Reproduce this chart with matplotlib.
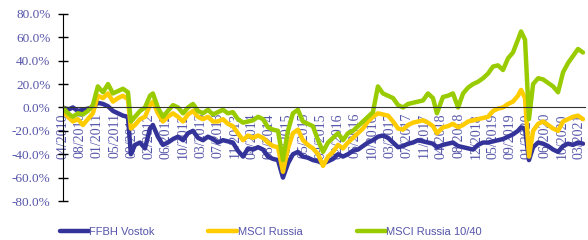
import matplotlib
matplotlib.use("Agg")
import matplotlib.pyplot as plt
import numpy as np

# x labels (one every ~4 months)
tick_labels = ["04/2010", "08/2010", "01/2011", "05/2011", "09/2011", "02/2012",
               "06/2012", "10/2012", "03/2013", "07/2013", "11/2013", "04/2014",
               "08/2014", "01/2015", "05/2015", "09/2015", "02/2016", "06/2016",
               "10/2016", "03/2017", "07/2017", "11/2017", "04/2018", "08/2018",
               "12/2018", "05/2019", "09/2019", "01/2020", "06/2020", "10/2020",
               "03/2021"]

# position of each sample, in tick steps from 04/2010
period = [0.00, 0.29, 0.58, 0.87, 1.16, 1.45, 1.74, 2.03, 2.33, 2.62, 2.91, 3.20,
          3.49, 3.78, 3.95, 4.19, 4.48, 4.77, 5.06, 5.23, 5.52, 5.81, 6.10, 6.40,
          6.69, 6.98, 7.27, 7.56, 7.85, 8.14, 8.43, 8.72, 9.01, 9.30, 9.59, 9.88,
          10.17, 10.47, 10.76, 11.05, 11.34, 11.63, 11.92, 12.21, 12.50, 12.79,
          13.08, 13.37, 13.66, 13.95, 14.24, 14.53, 14.83, 15.12, 15.41, 15.70,
          15.99, 16.28, 16.57, 16.86, 17.15, 17.44, 17.73, 18.02, 18.31, 18.60,
          18.90, 19.19, 19.48, 19.77, 20.06, 20.35, 20.64, 20.93, 21.22, 21.51,
          21.74, 22.09, 22.38, 22.67, 22.97, 23.26, 23.55, 23.84, 24.13, 24.42,
          24.71, 25.00, 25.29, 25.58, 25.87, 26.16, 26.45, 26.63, 26.86, 27.09,
          27.33, 27.62, 27.91, 28.20, 28.49, 28.78, 29.07, 29.36, 29.65, 29.94,
          30.23]

ffbh = [0, -2, 0, -3, -2, -1, 0, 4, 3, 1, -3, -5, -7, -8, -40, -32, -30, -35, -18,
        -15, -25, -32, -30, -27, -25, -28, -22, -20, -26, -28, -25, -27, -30, -28,
        -29, -30, -37, -42, -35, -36, -34, -36, -42, -44, -45, -60, -48, -40, -38,
        -42, -43, -45, -46, -48, -46, -44, -40, -42, -40, -37, -36, -33, -30, -28,
        -25, -24, -26, -30, -34, -33, -31, -30, -28, -29, -30, -31, -34, -32, -31,
        -30, -33, -34, -35, -36, -32, -30, -30, -29, -28, -27, -25, -23, -20, -17,
        -18, -45, -34, -30, -31, -33, -36, -38, -33, -31, -32, -30, -31]

msci = [-3, -8, -12, -10, -15, -10, -5, 10, 8, 12, 5, 8, 10, 7, -18, -15, -10, -8,
        2, 5, -5, -12, -8, -5, -8, -12, -6, -3, -8, -10, -8, -12, -12, -10, -14,
        -16, -22, -28, -24, -26, -24, -26, -30, -33, -34, -55, -35, -22, -19, -28,
        -32, -35, -40, -50, -42, -38, -32, -35, -30, -26, -22, -18, -12, -8, -5,
        -6, -7, -12, -18, -19, -15, -13, -12, -11, -13, -16, -22, -17, -16, -14,
        -17, -15, -12, -11, -10, -9, -8, -3, -1, 0, 3, 5, 10, 15, 8, -42, -20, -14,
        -12, -15, -18, -20, -12, -10, -8, -7, -10]

msci_1040 = [0, -5, -8, -5, -6, -3, 2, 18, 13, 20, 12, 14, 16, 13, -12, -8, -3, 0,
             10, 12, 0, -8, -3, 2, 0, -5, 0, 3, -3, -5, -2, -6, -4, -2, -5, -4,
             -10, -13, -12, -11, -8, -10, -17, -19, -20, -45, -20, -5, -2, -12,
             -14, -16, -28, -38, -30, -26, -22, -28, -22, -20, -16, -12, -8, -4,
             18, 12, 10, 8, 2, 0, 3, 4, 5, 6, 12, 8, -5, 9, 10, 12, 0, 12, 17, 20,
             22, 25, 29, 35, 36, 32, 42, 47, 58, 65, 58, -10, 20, 25, 24, 21, 18,
             13, 30, 38, 44, 50, 47]

series = [("FFBH Vostok", ffbh, "#333399"),
          ("MSCI Russia", msci, "#ffcc00"),
          ("MSCI Russia 10/40", msci_1040, "#99cc00")]

label_color = "#5555aa"

fig = plt.figure(figsize=(5.88, 2.4), dpi=100)
ax = fig.add_axes([0.107, 0.1625, 0.888, 0.7795])
ax.set_axisbelow(True)  # lines run over the date labels

# spines first: moving a spine resets the ticks
for s in ["top", "right"]:
    ax.spines[s].set_visible(False)
ax.spines["bottom"].set_position(("data", 0))
ax.spines["bottom"].set_color("#333333")
ax.spines["left"].set_color("black")

handles = []
for name, vals, col in series:
    h, = ax.plot(period, vals, color=col, lw=3.2, solid_capstyle="round",
                 solid_joinstyle="round", label=name)
    handles.append(h)

ax.set_xlim(0, 30.35)
ax.set_ylim(-80, 80)
ax.set_yticks(np.arange(-80, 81, 20))
ax.set_yticklabels([f"{v:.1f}%" for v in np.arange(-80, 81, 20)],
                   family="Liberation Serif", fontsize=9.5, color=label_color)
ax.tick_params(axis="y", direction="inout", length=7, width=1, color="black", pad=5.5)

ax.set_xticks(np.arange(len(tick_labels)))
ax.set_xticklabels(tick_labels, family="Liberation Serif",
                   fontsize=10, color=label_color)
ax.tick_params(axis="x", length=0, pad=4, labelrotation=90)

# one legend per entry, evenly spread as in the source
for h, x0 in zip(handles, [0.102, 0.354, 0.607]):
    fig.legend(handles=[h], loc="center left", bbox_to_anchor=(x0, 0.035),
               frameon=False, handlelength=2.6, handletextpad=0.05,
               borderpad=0, borderaxespad=0,
               prop={"family": "Liberation Sans", "size": 8},
               labelcolor=label_color)

fig.savefig("out.png", dpi=100)
